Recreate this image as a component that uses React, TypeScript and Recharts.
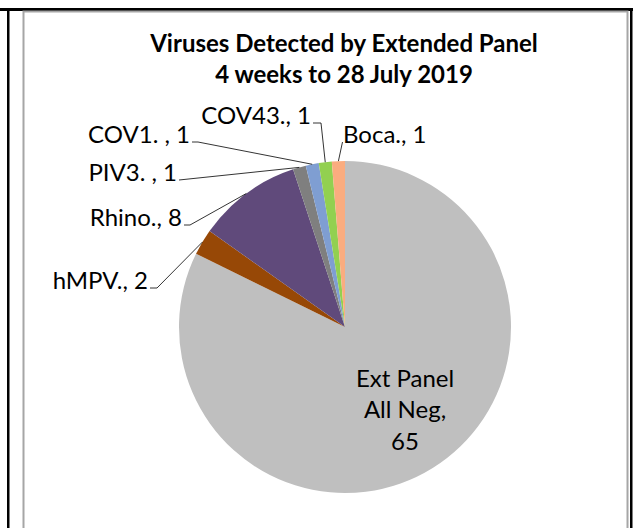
import React from "react";
import { PieChart, Pie, Cell } from "recharts";

const names = ["Ext Panel All Neg", "hMPV.", "Rhino.", "PIV3. ", "COV1. ", "COV43.", "Boca."];
const counts = [65, 2, 8, 1, 1, 1, 1];
const colors = ["#BFBFBF", "#974806", "#604A7B", "#7F7F7F", "#7F9ED2", "#92D050", "#FAAC7F"];
const titleLines = ["Viruses Detected by Extended Panel", "4 weeks to 28 July 2019"];

const data = names.map((name, i) => ({ name, value: counts[i] }));

// label placement relative to pie centre (baseline of text), Excel "best fit" look
const labelLayout: Record<string, { dx: number; dy: number; anchor: "start" | "end"; elbow: number }> = {
  "hMPV.": { dx: -197, dy: -38, anchor: "end", elbow: 7 },
  "Rhino.": { dx: -163, dy: -101, anchor: "end", elbow: 6 },
  "PIV3. ": { dx: -168, dy: -146, anchor: "end", elbow: 0 },
  "COV1. ": { dx: -155, dy: -184, anchor: "end", elbow: 6 },
  "COV43.": { dx: -34, dy: -203, anchor: "end", elbow: 8 },
  "Boca.": { dx: -2, dy: -184, anchor: "start", elbow: 0 },
};

const FONT = "Lato, 'Noto Sans', sans-serif";
const RAD = Math.PI / 180;

const renderLabel = (props: any) => {
  const { cx, cy, midAngle, outerRadius, name, value } = props;
  const layout = labelLayout[name];
  if (!layout) {
    // big slice: label inside, wrapped over three lines
    const x = cx + 60;
    return (
      <text x={x} y={cy + 60} textAnchor="middle" fontFamily={FONT} fontSize={24} fill="#000">
        <tspan x={x} dy={0}>Ext Panel</tspan>
        <tspan x={x} dy={31}>All Neg,</tspan>
        <tspan x={x} dy={32}>{value}</tspan>
      </text>
    );
  }
  const ox = cx + outerRadius * Math.cos(-midAngle * RAD);
  const oy = cy + outerRadius * Math.sin(-midAngle * RAD);
  const tx = cx + layout.dx;
  const ty = cy + layout.dy;
  const endX = layout.anchor === "end" ? tx + 2 : tx - 0.5;
  const lineY = ty - 1;
  const elbowX = endX + (layout.anchor === "end" ? layout.elbow : -layout.elbow);
  return (
    <g>
      <polyline
        points={`${ox},${oy} ${elbowX},${lineY} ${endX},${lineY}`}
        fill="none"
        stroke="#000"
        strokeWidth={0.8}
      />
      <text x={tx} y={ty} textAnchor={layout.anchor} fontFamily={FONT} fontSize={24} fill="#000">
        {`${name}, ${value}`}
      </text>
    </g>
  );
};

export default function App() {
  return (
    <div style={{ position: "absolute", left: 0, top: 0, width: 634, height: 528, background: "#fff" }}>
      <svg width={634} height={528} style={{ position: "absolute", left: 0, top: 0 }}>
        <rect x={0} y={8} width={633} height={3} fill="#000" />
        <rect x={7} y={8} width={2.5} height={520} fill="#000" />
        <rect x={630} y={8} width={2.5} height={520} fill="#000" />
        <rect x={23.5} y={11.5} width={604} height={530} fill="none" stroke="#A6A6A6" strokeWidth={2} />
        {titleLines.map((t, i) => (
          <text
            key={t}
            x={344}
            y={52 + i * 31}
            textAnchor="middle"
            fontFamily={FONT}
            fontWeight="bold"
            fontSize={24}
            fill="#000"
          >
            {t}
          </text>
        ))}
      </svg>
      <div style={{ position: "absolute", left: 0, top: 0 }}>
        <PieChart width={634} height={528} margin={{ top: 0, right: 0, bottom: 0, left: 0 }}>
          <Pie
            data={data}
            dataKey="value"
            nameKey="name"
            cx={345}
            cy={327}
            outerRadius={166}
            startAngle={90}
            endAngle={-270}
            stroke="none"
            label={renderLabel}
            labelLine={false}
            isAnimationActive={false}
          >
            {data.map((d, i) => (
              <Cell key={d.name} fill={colors[i]} />
            ))}
          </Pie>
        </PieChart>
      </div>
    </div>
  );
}
